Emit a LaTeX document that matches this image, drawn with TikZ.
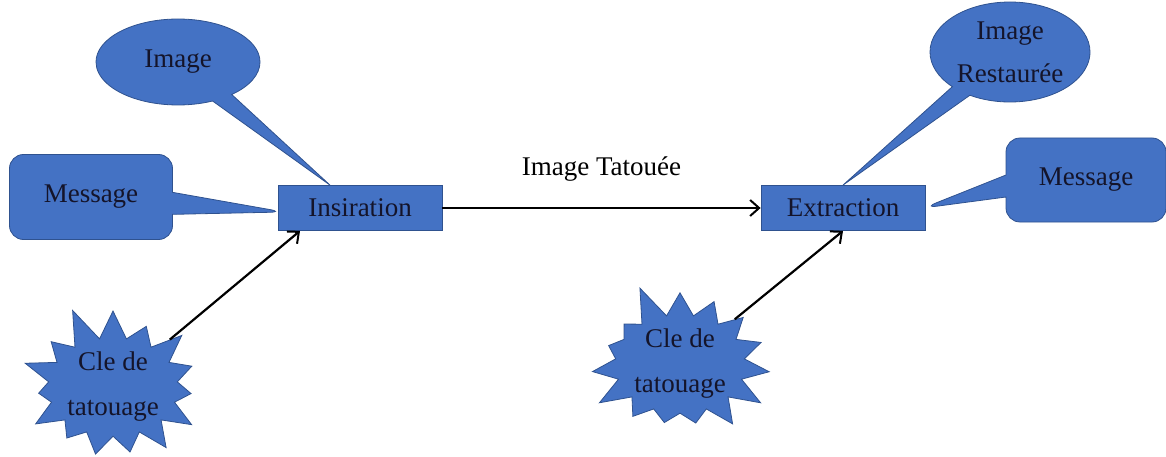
\documentclass[tikz,border=0pt]{standalone}
\usepackage{fontspec}
\setmainfont{Liberation Serif}
\usetikzlibrary{positioning,shapes.callouts,shapes.symbols,arrows.meta}

\definecolor{boxblue}{HTML}{4472C4}
\definecolor{edgeblue}{HTML}{2F528F}
\definecolor{inkc}{HTML}{14142A}

\tikzset{
  box/.style={rectangle,draw=edgeblue,fill=boxblue,line width=0.8pt,
    minimum width=164pt,minimum height=45pt,inner sep=0pt,text=inkc},
  bubble/.style={ellipse callout,draw=edgeblue,fill=boxblue,line width=0.8pt,
    inner sep=0pt,text=inkc,align=center,callout pointer arc=16},
  note/.style={rectangle callout,rounded corners=14pt,draw=edgeblue,fill=boxblue,
    line width=0.8pt,inner sep=0pt,text=inkc,callout pointer width=22pt},
  burst/.style={starburst,starburst points=15,starburst point height=36pt,
    random starburst=11,draw=edgeblue,fill=boxblue,line width=0.8pt,
    inner sep=0pt,text=inkc,align=center},
  flow/.style={-{Straight Barb[length=9pt,width=16pt,line width=2pt]},line width=2.2pt}
}

\begin{document}
\begin{tikzpicture}[x=1pt,y=-1pt,font=\fontsize{27}{31}\selectfont]
  \useasboundingbox (0,0) rectangle (1166,457);

  \node[box] (ins) at (360,208) {Insiration};
  \node[box,right of=ins,node distance=483pt] (ext) {Extraction};

  % callouts round the two blocks
  \node[bubble,minimum width=164pt,minimum height=86pt,
    callout absolute pointer={([xshift=-30pt]ins.north)}] (img) at (178,62) {Image};
  \node[note,minimum width=163pt,minimum height=85pt,
    callout absolute pointer={([xshift=6pt,yshift=-4pt]ins.west)}] (msg) at (91,197) {Message};
  \node[bubble,minimum width=160pt,minimum height=100pt,
    font=\fontsize{27}{43}\selectfont,
    callout absolute pointer={(ext.north)}] (rest) at (1010,52) {Image\\Restaurée};
  \node[note,minimum width=160pt,minimum height=84pt,
    callout absolute pointer={([xshift=-2pt]ext.east)}] (msg2) at (1086,180) {Message};

  % keys
  \node[burst,minimum width=140pt,minimum height=112pt,
    font=\fontsize{27}{45}\selectfont] (key) at (113,387) {Cle de\\tatouage};
  \node[burst,minimum width=134pt,minimum height=108pt,random starburst=5,
    font=\fontsize{27}{45}\selectfont] (key2) at (680,364) {Cle de\\tatouage};

  \draw[flow] (ins) -- node[above=22pt] {Image Tatouée} (ext);
  \draw[flow] (key) -- ([xshift=-60pt]ins.south);
  \draw[flow] (key2) -- (ext.south);
\end{tikzpicture}
\end{document}
